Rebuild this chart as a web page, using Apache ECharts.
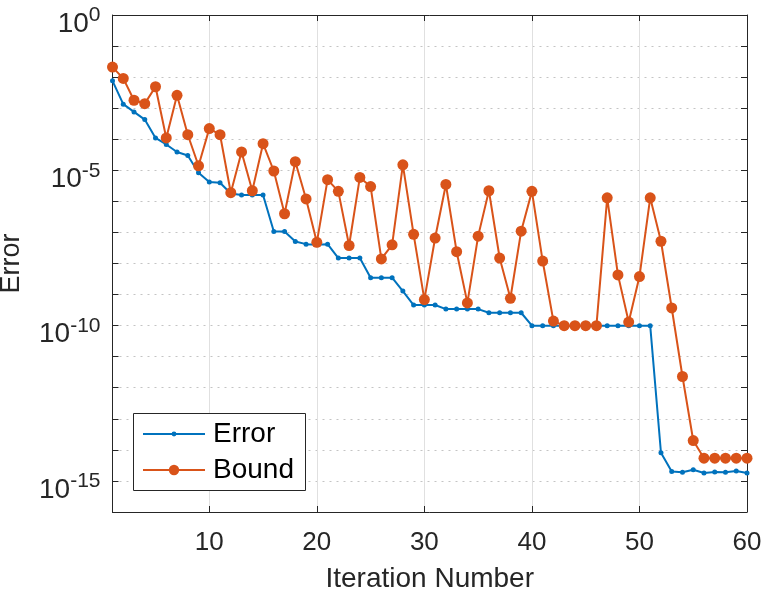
<!DOCTYPE html>
<html>
<head>
<meta charset="utf-8">
<script src="https://cdn.jsdelivr.net/npm/echarts@6/dist/echarts.min.js"></script>
<style>
  html, body { margin: 0; padding: 0; background: #fff; }
  #chart { width: 763px; height: 598px; }
</style>
</head>
<body>
<div id="chart"></div>
<script>
// iteration numbers 1..60
const iterations = [
  1, 2, 3, 4, 5, 6, 7, 8, 9, 10,
  11, 12, 13, 14, 15, 16, 17, 18, 19, 20,
  21, 22, 23, 24, 25, 26, 27, 28, 29, 30,
  31, 32, 33, 34, 35, 36, 37, 38, 39, 40,
  41, 42, 43, 44, 45, 46, 47, 48, 49, 50,
  51, 52, 53, 54, 55, 56, 57, 58, 59, 60
]

const errorValues = [
  7.6e-3, 1.35e-3, 7.6e-4, 4.3e-4, 1.1e-4, 6.8e-5, 3.9e-5, 3.0e-5, 8.3e-6, 4.2e-6,
  4.0e-6, 1.8e-6, 1.6e-6, 1.6e-6, 1.6e-6, 1.07e-7, 1.07e-7, 5.1e-8, 4.2e-8, 4.0e-8,
  4.2e-8, 1.5e-8, 1.5e-8, 1.5e-8, 3.5e-9, 3.5e-9, 3.5e-9, 1.3e-9, 4.6e-10, 4.6e-10,
  4.6e-10, 3.4e-10, 3.4e-10, 3.4e-10, 3.4e-10, 2.6e-10, 2.6e-10, 2.6e-10, 2.6e-10, 1e-10,
  1e-10, 1e-10, 1e-10, 1e-10, 1e-10, 1e-10, 1e-10, 1e-10, 1e-10, 1e-10,
  1e-10, 8.1e-15, 2.0e-15, 1.9e-15, 2.3e-15, 1.8e-15, 1.95e-15, 1.9e-15, 2.1e-15, 1.8e-15
]

const boundValues = [
  2.1e-2, 9.1e-3, 1.8e-3, 1.4e-3, 4.9e-3, 1.1e-4, 2.6e-3, 1.4e-4, 1.4e-5, 2.2e-4,
  1.4e-4, 1.9e-6, 3.9e-5, 2.2e-6, 7.2e-5, 9.5e-6, 4.0e-7, 1.9e-5, 1.2e-6, 4.8e-8,
  5.0e-6, 2.1e-6, 3.8e-8, 5.9e-6, 3.0e-6, 1.4e-8, 4.0e-8, 1.5e-5, 8.7e-8, 6.9e-10,
  6.6e-8, 3.5e-6, 2.4e-8, 5.4e-10, 7.6e-8, 2.2e-6, 1.5e-8, 7.6e-10, 1.1e-7, 2.1e-6,
  1.2e-8, 1.4e-10, 1e-10, 1e-10, 1e-10, 1e-10, 1.3e-6, 4.3e-9, 1.3e-10, 3.8e-9,
  1.3e-6, 5.2e-8, 3.7e-10, 2.3e-12, 2.0e-14, 5.4e-15, 5.4e-15, 5.4e-15, 5.4e-15, 5.4e-15
]

const xTicks = [10, 20, 30, 40, 50, 60]
const yMajor = [1e-5, 1e-10, 1e-15]

const ink = '#262626'
const blue = '#0072BD'
const orange = '#D95319'
const font = 'Liberation Sans, Arial, Helvetica, sans-serif'

const chart = echarts.init(document.getElementById('chart'))

const pair = (xs, ys) => xs.map((x, i) => [x, ys[i]])

const xAxisBase = {
  type: 'value',
  min: 1,
  max: 60,
  axisLine: { show: true, onZero: false, lineStyle: { color: ink, width: 1 } },
  axisTick: { show: true, inside: true, length: 6, customValues: xTicks, lineStyle: { color: ink } }
}

const yAxisBase = {
  type: 'log',
  logBase: 10,
  min: 1e-16,
  max: 1,
  interval: 1,
  axisLine: { show: true, lineStyle: { color: ink, width: 1 } },
  axisTick: { show: true, inside: true, length: 6, lineStyle: { color: ink } }
}

// legend entries get their own legend so the marker sizes can differ
const legendBase = {
  orient: 'vertical',
  left: 142,
  padding: 0,
  itemWidth: 62,
  z: 6,
  textStyle: { fontSize: 28, color: '#000', lineHeight: 28, fontFamily: font, padding: [0, 0, 0, 3] }
}

chart.setOption({
  backgroundColor: '#fff',
  animation: false,
  textStyle: { fontFamily: font },
  grid: {
    left: 112.5,
    right: 16,
    top: 15,
    bottom: 86,
    containLabel: false,
    outerBoundsMode: 'none'
  },
  graphic: [{
    type: 'rect',
    z: 5,
    shape: { x: 133.5, y: 413.5, width: 172, height: 77 },
    style: { fill: '#fff', stroke: ink, lineWidth: 1 }
  }],
  legend: [{
    ...legendBase,
    data: ['Error'],
    top: 420,
    itemHeight: 6
  }, {
    ...legendBase,
    data: ['Bound'],
    top: 456,
    itemHeight: 13
  }],
  xAxis: [{
    ...xAxisBase,
    position: 'bottom',
    name: 'Iteration Number',
    nameLocation: 'middle',
    nameGap: 53,
    nameTextStyle: { fontSize: 28, color: ink, fontFamily: font },
    axisLabel: { show: true, customValues: xTicks, margin: 18, fontSize: 26, color: ink, fontFamily: font },
    splitLine: { show: true, lineStyle: { color: '#e0e0e0', width: 1 } }
  }, {
    ...xAxisBase,
    position: 'top',
    axisLabel: { show: false },
    splitLine: { show: false }
  }],
  yAxis: [{
    ...yAxisBase,
    position: 'left',
    name: 'Error',
    nameLocation: 'middle',
    nameGap: 87,
    nameTextStyle: { fontSize: 27, color: ink, fontFamily: font },
    axisLabel: {
      show: true,
      margin: 12,
      color: ink,
      formatter: (v) => {
        const e = Math.round(Math.log10(v))
        if (e % 5 !== 0) return ''
        return '{b|10}{s|' + e + '}'
      },
      rich: {
        b: { fontSize: 28, color: ink, fontFamily: font, verticalAlign: 'bottom', padding: [18, 0, 0, 0] },
        s: { fontSize: 21, color: ink, fontFamily: font, verticalAlign: 'top', padding: [13, 0, 0, 0] }
      }
    },
    splitLine: { show: true, lineStyle: { color: '#c4c4c4', width: 1, type: [2, 5] } }
  }, {
    ...yAxisBase,
    position: 'right',
    axisLabel: { show: false },
    splitLine: { show: false }
  }],
  series: [{
    name: 'grid-major',
    type: 'line',
    data: [],
    z: 1,
    silent: true,
    markLine: {
      silent: true,
      symbol: 'none',
      label: { show: false },
      lineStyle: { color: '#e0e0e0', width: 1, type: 'solid' },
      data: yMajor.map(v => ({ yAxis: v }))
    }
  }, {
    name: 'Error',
    type: 'line',
    z: 2,
    data: pair(iterations, errorValues),
    color: blue,
    symbol: 'circle',
    symbolSize: 5,
    showSymbol: true,
    lineStyle: { width: 2, color: blue },
    itemStyle: { color: blue }
  }, {
    name: 'Bound',
    type: 'line',
    z: 2,
    data: pair(iterations, boundValues),
    color: orange,
    symbol: 'circle',
    symbolSize: 11,
    showSymbol: true,
    lineStyle: { width: 2, color: orange },
    itemStyle: { color: orange }
  }]
})
</script>
</body>
</html>
